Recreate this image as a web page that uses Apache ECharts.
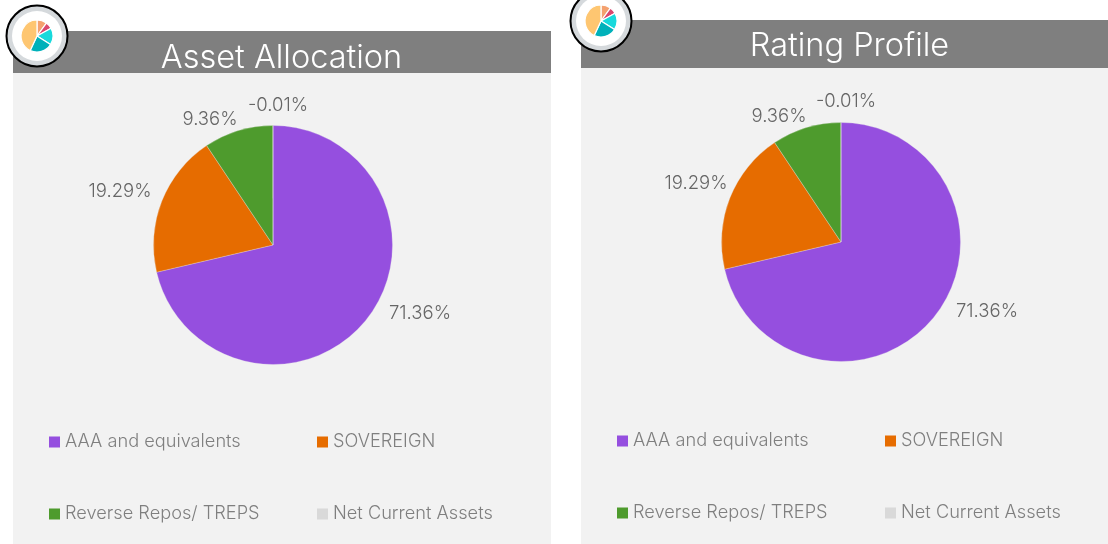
<!DOCTYPE html>
<html>
<head>
<meta charset="utf-8">
<style>
  html, body { margin: 0; padding: 0; background: #fff; }
  #chart { width: 1108px; height: 544px; }
</style>
<script src="https://cdn.jsdelivr.net/npm/echarts@6/dist/echarts.min.js"></script>
</head>
<body>
<div id="chart"></div>
<script>
// datos
const categorias = ['AAA and equivalents', 'SOVEREIGN', 'Reverse Repos/ TREPS', 'Net Current Assets'];
const valoresAsset = [71.36, 19.29, 9.36, -0.01];
const valoresRating = [71.36, 19.29, 9.36, -0.01];
const colores = ['#954fdf', '#e66c00', '#4e9b2d', '#d9d9d9'];

const iconoValores = [10, 7, 17, 23, 43];
const iconoColores = ['#f4a16f', '#d9476f', '#17d9dc', '#00b1ba', '#fec671'];

// paneles (etiquetas: centro del texto relativo al centro de la tarta)
const paneles = [
    { titulo: 'Asset Allocation', x: 13, w: 538, headTop: 31, headBottom: 73, tituloX: 281.5, tituloY: 58, cx: 273, cy: 245, iconoX: 37, iconoY: 36, swatchX: [49, 317], filas: [441, 513], valores: valoresAsset,
      etiquetas: [[147, 68], [-153, -54], [-63, -126], [5, -140]] },
    { titulo: 'Rating Profile', x: 581, w: 538, headTop: 20, headBottom: 68, tituloX: 849.5, tituloY: 46, cx: 841, cy: 242, iconoX: 601, iconoY: 21, swatchX: [617, 885], filas: [440, 512], valores: valoresRating,
      etiquetas: [[146, 69], [-145, -59], [-62, -126], [5, -141]] }
];

const FUENTE = 'Inter';
const graficos = [];
const titulos = [];
const leyendas = [];
const series = [];

paneles.forEach(p => {
    graficos.push({ type: 'rect', z: 0, shape: { x: p.x, y: p.headBottom, width: p.w, height: 544 - p.headBottom }, style: { fill: '#f2f2f2' } });
    graficos.push({ type: 'rect', z: 1, shape: { x: p.x, y: p.headTop, width: p.w, height: p.headBottom - p.headTop }, style: { fill: '#7f7f7f' } });
    graficos.push({ type: 'circle', z: 1, shape: { cx: p.iconoX, cy: p.iconoY, r: 30.5 }, style: { fill: '#d5d9dc', stroke: '#000', lineWidth: 2 } });
    graficos.push({ type: 'circle', z: 1, shape: { cx: p.iconoX, cy: p.iconoY, r: 25 }, style: { fill: '#fff' } });

    titulos.push({
        text: p.titulo,
        left: p.tituloX,
        top: p.tituloY,
        padding: 0,
        textAlign: 'center',
        textVerticalAlign: 'middle',
        textStyle: { color: '#fff', fontFamily: FUENTE, fontWeight: 300, fontSize: 32.5 }
    });

    categorias.forEach((nombre, i) => {
        leyendas.push({
            data: [{ name: nombre, itemStyle: { color: colores[i], borderWidth: 0 } }],
            orient: 'horizontal',
            left: p.swatchX[i % 2],
            top: p.filas[Math.floor(i / 2)] - 8,
            padding: 0,
            itemWidth: 11,
            itemHeight: 11,
            itemGap: 0,
            icon: 'rect',
            selectedMode: false,
            textStyle: { color: '#7f7f7f', fontFamily: FUENTE, fontWeight: 300, fontSize: 18.2 }
        });
    });

    series.push({
        type: 'pie',
        z: 2,
        center: [p.cx, p.cy],
        radius: [0, 119.5],
        startAngle: 90,
        clockwise: true,
        animation: false,
        silent: true,
        itemStyle: { borderColor: '#e8e8e8', borderWidth: 0.3 },
        label: {
            show: true,
            position: 'outside',
            color: '#666',
            fontFamily: FUENTE,
            fontWeight: 300,
            fontSize: 18.5,
            formatter: params => p.valores[params.dataIndex].toFixed(2) + '%'
        },
        labelLine: { show: false },
        labelLayout: params => ({
            x: p.cx + p.etiquetas[params.dataIndex][0],
            y: p.cy + p.etiquetas[params.dataIndex][1],
            align: 'center',
            verticalAlign: 'middle'
        }),
        // ECharts descarta los valores negativos en las tartas, asi que se dibuja el absoluto
        data: categorias.map((nombre, i) => ({ name: nombre, value: Math.abs(p.valores[i]), itemStyle: { color: colores[i] } }))
    });

    series.push({
        type: 'pie',
        z: 3,
        center: [p.iconoX, p.iconoY],
        radius: [0, 16],
        startAngle: 90,
        animation: false,
        silent: true,
        label: { show: false },
        labelLine: { show: false },
        itemStyle: { borderColor: '#fff', borderWidth: 1.2 },
        data: iconoValores.map((v, i) => ({ name: 'icono' + i, value: v, itemStyle: { color: iconoColores[i] } }))
    });
});

const chart = echarts.init(document.getElementById('chart'), null, { renderer: 'canvas' });
chart.setOption({
    backgroundColor: '#fff',
    animation: false,
    title: titulos,
    legend: leyendas,
    graphic: { elements: graficos },
    series: series
});
</script>
</body>
</html>
